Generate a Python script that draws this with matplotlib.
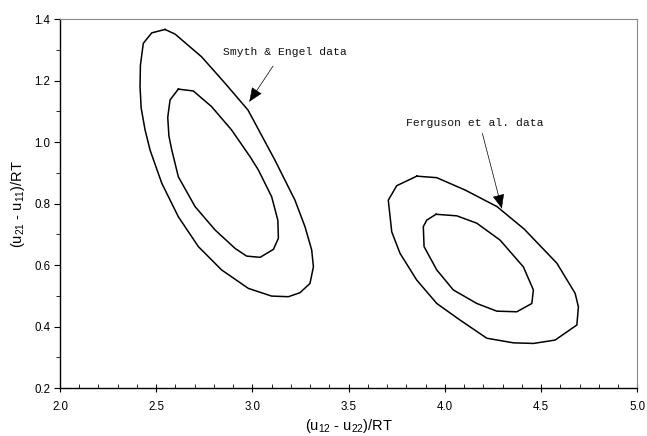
import matplotlib
matplotlib.use("Agg")
import matplotlib.pyplot as plt
from matplotlib.ticker import MultipleLocator, FormatStrFormatter

# Joint confidence regions (x = (u12-u22)/RT, y = (u21-u11)/RT)
smyth_outer_x = [2.546, 2.598, 2.736, 2.858, 2.977, 3.117, 3.221, 3.273, 3.308, 3.317,
                 3.299, 3.247, 3.187, 3.100, 2.979, 2.840, 2.719, 2.615, 2.529, 2.468,
                 2.442, 2.422, 2.416, 2.418, 2.433, 2.477]
smyth_outer_y = [1.366, 1.351, 1.277, 1.191, 1.104, 0.941, 0.811, 0.725, 0.649, 0.594,
                 0.540, 0.510, 0.497, 0.499, 0.524, 0.584, 0.660, 0.757, 0.866, 0.974,
                 1.040, 1.110, 1.180, 1.250, 1.321, 1.355]

smyth_inner_x = [2.615, 2.693, 2.788, 2.892, 2.988, 3.031, 3.100, 3.132, 3.135, 3.109,
                 3.040, 2.970, 2.910, 2.806, 2.702, 2.615, 2.581, 2.566, 2.560, 2.572]
smyth_inner_y = [1.172, 1.166, 1.115, 1.039, 0.952, 0.909, 0.822, 0.746, 0.687, 0.651,
                 0.625, 0.629, 0.654, 0.714, 0.790, 0.887, 0.974, 1.020, 1.080, 1.137]

ferg_outer_x = [3.854, 3.958, 4.105, 4.271, 4.412, 4.582, 4.677, 4.694, 4.686, 4.573,
                4.460, 4.356, 4.218, 4.079, 3.958, 3.854, 3.767, 3.724, 3.706, 3.750]
ferg_outer_y = [0.889, 0.884, 0.844, 0.790, 0.717, 0.606, 0.508, 0.464, 0.405, 0.356,
                0.345, 0.347, 0.362, 0.421, 0.475, 0.551, 0.638, 0.708, 0.811, 0.858]

ferg_inner_x = [3.954, 4.062, 4.166, 4.287, 4.408, 4.460, 4.452, 4.374, 4.270, 4.166,
                4.044, 3.958, 3.892, 3.888, 3.906]
ferg_inner_y = [0.765, 0.760, 0.736, 0.681, 0.594, 0.519, 0.475, 0.448, 0.450, 0.475,
                0.519, 0.584, 0.660, 0.725, 0.746]

labels = ["Smyth & Engel data", "Ferguson et al. data"]
label_xy = [(2.846, 1.294), (3.798, 1.061)]
arrow_tail = [(3.107, 1.247), (4.195, 1.028)]
arrow_tip = [(2.984, 1.131), (4.296, 0.784)]

plt.rcParams["font.family"] = ["Liberation Sans", "DejaVu Sans"]
plt.rcParams["mathtext.default"] = "regular"

fig = plt.figure(figsize=(6.47, 4.36), dpi=100)
ax = fig.add_axes([0.0927, 0.110, 0.8923, 0.8464])


def closed(xs, ys):
    return list(xs) + [xs[0]], list(ys) + [ys[0]]


for xs, ys in ((smyth_outer_x, smyth_outer_y), (smyth_inner_x, smyth_inner_y),
               (ferg_outer_x, ferg_outer_y), (ferg_inner_x, ferg_inner_y)):
    cx, cy = closed(xs, ys)
    ax.plot(cx, cy, color="black", linewidth=1.1, solid_joinstyle="round")

for text, (tx, ty), tail, tip in zip(labels, label_xy, arrow_tail, arrow_tip):
    ax.text(tx, ty, text, family=["Liberation Mono", "DejaVu Sans Mono"],
            fontsize=8.2, ha="left", va="center", color="#111111")
    ax.annotate("", xy=tip, xytext=tail,
                arrowprops=dict(arrowstyle="-|>,head_length=0.9,head_width=0.38",
                                color="black", linewidth=0.4,
                                shrinkA=0, shrinkB=0))
    # the leader line itself is a light grey hairline
    ax.plot([tail[0], tip[0]], [tail[1], tip[1]], color="#b0b0b0", linewidth=0.6)

ax.set_xlim(2.0, 5.0)
ax.set_ylim(0.2, 1.4)
ax.xaxis.set_major_locator(MultipleLocator(0.5))
ax.xaxis.set_minor_locator(MultipleLocator(0.1))
ax.yaxis.set_major_locator(MultipleLocator(0.2))
ax.yaxis.set_minor_locator(MultipleLocator(0.1))
ax.xaxis.set_major_formatter(FormatStrFormatter("%.1f"))
ax.yaxis.set_major_formatter(FormatStrFormatter("%.1f"))

ax.tick_params(axis="x", which="major", direction="inout", length=6, width=0.8,
               labelsize=8.3, pad=6)
ax.tick_params(axis="x", which="minor", direction="in", length=3, width=0.6)
ax.tick_params(axis="y", which="major", direction="out", length=4, width=0.8,
               labelsize=8.3, pad=3)
ax.tick_params(axis="y", which="minor", direction="out", length=3, width=0.6)

for side in ("left", "bottom"):
    ax.spines[side].set_color("black")
    ax.spines[side].set_linewidth(1.0)
for side in ("top", "right"):
    ax.spines[side].set_color("#8a8a8a")
    ax.spines[side].set_linewidth(0.8)

ax.set_xlabel("(u$_{12}$ - u$_{22}$)/RT", fontsize=10.5, labelpad=3)
ax.set_ylabel("(u$_{21}$ - u$_{11}$)/RT", fontsize=10.5, labelpad=5)

fig.savefig("out.png", dpi=100, facecolor="white")
